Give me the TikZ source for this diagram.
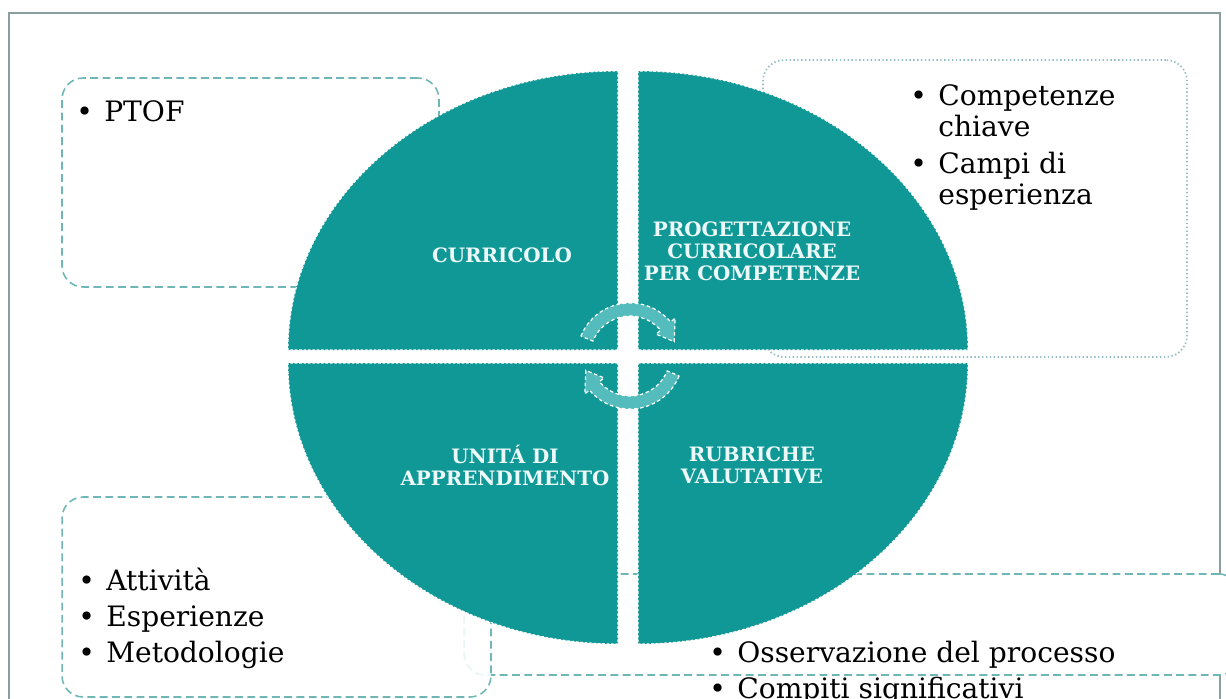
\documentclass[tikz,border=0pt]{standalone}
\usepackage{fontspec}
\setmainfont{DejaVu Serif}
\usetikzlibrary{positioning}
\usetikzlibrary{calc}

\definecolor{quadteal}{RGB}{16,152,150}
\definecolor{arrowteal}{RGB}{84,188,188}
\definecolor{labelwhite}{RGB}{236,250,250}
\definecolor{boxteal}{RGB}{112,182,182}
\definecolor{dotgray}{RGB}{150,190,194}
\definecolor{framegray}{RGB}{138,158,158}

\tikzstyle{frame}=[draw=framegray, line width=1.1pt]
\tikzstyle{quadrant}=[fill=quadteal, draw=white, line width=0.6pt, dash pattern=on 1.5pt off 1pt]
\tikzstyle{quadlabel}=[text=labelwhite, font=\bfseries\fontsize{11.3}{12.5}\selectfont, align=center, inner sep=0pt]
\tikzstyle{dashbox}=[rectangle, draw=boxteal, line width=0.9pt, dash pattern=on 4.5pt off 2.5pt, rounded corners=12pt, fill=white, inner sep=0pt]
\tikzstyle{dotbox}=[rectangle, draw=dotgray, line width=1pt, dash pattern=on 0.8pt off 1.4pt, rounded corners=12pt, fill=white, inner sep=0pt]
\tikzstyle{listtext}=[anchor=base west, inner sep=0pt, font=\fontsize{16}{17.9}\selectfont]
\tikzstyle{cyclearrow}=[fill=arrowteal, draw=white, line width=0.7pt, dash pattern=on 2pt off 1.5pt]

\newcommand{\blt}{\makebox[0.56cm][l]{\textbullet}}

\begin{document}
\begin{tikzpicture}[x=0.02cm, y=0.02cm]

\useasboundingbox (0,0) rectangle (1226,698);
\clip (0,0) rectangle (1226,698);

%frame
\draw[frame] (9,-10) -- (9,685) -- (1220,685) -- (1220,-10);

%boxes
\node[dashbox, minimum width=15.52cm, minimum height=2.02cm] (ossbox) at (852,73.5) {};
\node[dashbox, fill opacity=0.85, minimum width=8.58cm, minimum height=4cm] (attbox) at (276.5,101) {};
\node[dashbox, minimum width=7.54cm, minimum height=4.18cm] (ptofbox) at (250.5,515.5) {};
\node[dotbox, minimum width=8.48cm, minimum height=5.94cm] (compbox) at (975,489.5) {};

%quadrants
\draw[quadrant] (618,348) -- (288,348) arc[start angle=180, end angle=90, x radius=330, y radius=279] -- cycle;
\draw[quadrant] (638,348) -- (638,627) arc[start angle=90, end angle=0, x radius=330, y radius=279] -- cycle;
\draw[quadrant] (618,335) -- (288,335) arc[start angle=180, end angle=270, x radius=330, y radius=281] -- cycle;
\draw[quadrant] (638,335) -- (968,335) arc[start angle=0, end angle=-90, x radius=330, y radius=281] -- cycle;

%cycle
\coordinate (ctr) at (630,342);
\draw[cyclearrow] ($(ctr)+(158:53)$) arc[start angle=158, end angle=40, radius=53]
    -- ($(ctr)+(40:59)$) -- ($(ctr)+(18:46.5)$) -- ($(ctr)+(40:34)$)
    -- ($(ctr)+(40:40)$) arc[start angle=40, end angle=158, radius=40] -- cycle;
\draw[cyclearrow] ($(ctr)+(-22:53)$) arc[start angle=-22, end angle=-140, radius=53]
    -- ($(ctr)+(-140:59)$) -- ($(ctr)+(-162:46.5)$) -- ($(ctr)+(-140:34)$)
    -- ($(ctr)+(-140:40)$) arc[start angle=-140, end angle=-22, radius=40] -- cycle;

\foreach \pos/\name/\label in {{(502,443)/curricolo/{CURRICOLO}},
    {(752,447)/progettazione/{PROGETTAZIONE\\CURRICOLARE\\PER COMPETENZE}},
    {(505,233)/unita/{UNITÁ DI\\APPRENDIMENTO}},
    {(752,233)/rubriche/{RUBRICHE\\VALUTATIVE}}}
    \node[quadlabel] (\name) at \pos {\label};

%lists
\node[listtext] (ptof) at (76,577) {\begin{tabular}[t]{@{}l@{}}\blt PTOF\end{tabular}};
\node[listtext] (comp) at (910,593) {\begin{tabular}[t]{@{}l@{}}\blt Competenze\\ \hspace{0.56cm}chiave\\[3.1pt] \blt Campi di\\ \hspace{0.56cm}esperienza\end{tabular}};
\node[listtext] (att) at (78,108) {\begin{tabular}[t]{@{}l@{}}\blt Attività\\[2.8pt] \blt Esperienze\\[2.8pt] \blt Metodologie\end{tabular}};
\node[listtext] (oss) at (709,36) {\begin{tabular}[t]{@{}l@{}}\blt Osservazione del processo\\[2.8pt] \blt Compiti significativi\end{tabular}};

\end{tikzpicture}
\end{document}
